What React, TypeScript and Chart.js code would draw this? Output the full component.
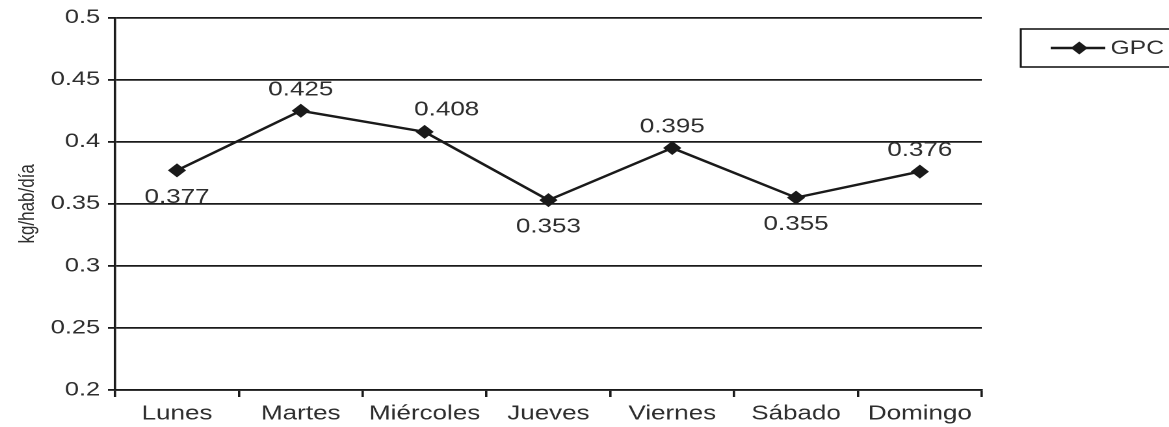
import React, { useEffect, useRef } from "react";
import { Chart, registerables } from "chart.js";

Chart.register(...registerables);

const categories = ["Lunes", "Martes", "Miércoles", "Jueves", "Viernes", "Sábado", "Domingo"];
const gpcValues = [0.377, 0.425, 0.408, 0.353, 0.395, 0.355, 0.376];
const seriesName = "GPC";
const yAxisTitle = "kg/hab/día";
const yMin = 0.2;
const yMax = 0.5;
const yStep = 0.05;
const labelPlacement = ["below", "above", "aboveRight", "below", "above", "below", "above"];

// The reference image is horizontally stretched; draw narrower and stretch with CSS.
const STRETCH = 1.3;
const OUT_W = 1169;
const OUT_H = 427;
const IN_W = Math.round(OUT_W / STRETCH);

const FONT = "'Liberation Sans', Arial, Helvetica, sans-serif";
const TEXT_COLOR = "#2e2e2e";
const LINE_COLOR = "#1a1a1a";

const placementOffsets: Record<string, [number, number]> = {
  below: [0, 27],
  above: [0, -21],
  aboveRight: [17, -22],
};

const dataLabelPlugin = {
  id: "dataLabels",
  afterDatasetsDraw(chart: any) {
    const ctx = chart.ctx;
    const meta = chart.getDatasetMeta(0);
    const values = chart.data.datasets[0].data as number[];
    ctx.save();
    ctx.font = `20px ${FONT}`;
    ctx.fillStyle = TEXT_COLOR;
    ctx.textAlign = "center";
    ctx.textBaseline = "middle";
    meta.data.forEach((pt: any, i: number) => {
      const off = placementOffsets[labelPlacement[i]] || [0, -20];
      ctx.fillText(values[i].toFixed(3), pt.x + off[0], pt.y + off[1]);
    });
    ctx.restore();
  },
};

const boxLegendPlugin = {
  id: "boxLegend",
  afterDraw(chart: any) {
    const ctx = chart.ctx;
    const ds = chart.data.datasets[0];
    const bx = 785;
    const by = 29;
    const bw = 125;
    const bh = 38;
    const cy = by + bh / 2;
    ctx.save();
    ctx.strokeStyle = LINE_COLOR;
    ctx.lineWidth = 1.6;
    ctx.strokeRect(bx, by, bw, bh);
    ctx.lineWidth = 2.5;
    ctx.beginPath();
    ctx.moveTo(808, cy);
    ctx.lineTo(850, cy);
    ctx.stroke();
    const r = 6.5;
    ctx.fillStyle = LINE_COLOR;
    ctx.beginPath();
    ctx.moveTo(830, cy - r);
    ctx.lineTo(830 + r, cy);
    ctx.lineTo(830, cy + r);
    ctx.lineTo(830 - r, cy);
    ctx.closePath();
    ctx.fill();
    ctx.font = `19px ${FONT}`;
    ctx.fillStyle = TEXT_COLOR;
    ctx.textAlign = "left";
    ctx.textBaseline = "middle";
    ctx.fillText(ds.label, 854, cy + 1);
    ctx.restore();
  },
};

export default function App() {
  const canvasRef = useRef<HTMLCanvasElement | null>(null);

  useEffect(() => {
    document.body.style.margin = "0";
    const canvas = canvasRef.current;
    if (!canvas) return;
    const chart = new Chart(canvas, {
      type: "line",
      data: {
        labels: categories,
        datasets: [
          {
            label: seriesName,
            data: gpcValues,
            borderColor: LINE_COLOR,
            backgroundColor: LINE_COLOR,
            borderWidth: 2.4,
            pointStyle: "rectRot",
            pointRadius: 7,
            pointBackgroundColor: LINE_COLOR,
            pointBorderColor: LINE_COLOR,
            pointBorderWidth: 0,
            tension: 0,
            fill: false,
          },
        ],
      },
      options: {
        animation: false,
        responsive: false,
        devicePixelRatio: 2,
        events: [],
        layout: { padding: { top: 17, right: IN_W - 755, bottom: 0, left: 0 } },
        plugins: {
          legend: { display: false },
          tooltip: { enabled: false },
        },
        scales: {
          x: {
            type: "category",
            offset: true,
            afterFit(scale: any) {
              scale.height = OUT_H - 390;
            },
            grid: {
              offset: true,
              drawOnChartArea: false,
              drawTicks: true,
              tickLength: 7,
              color: LINE_COLOR,
              lineWidth: 1.8,
            },
            border: { display: true, color: LINE_COLOR, width: 1.8 },
            ticks: {
              color: TEXT_COLOR,
              font: { family: FONT, size: 20 },
              padding: 5,
              maxRotation: 0,
              autoSkip: false,
            },
          },
          y: {
            min: yMin,
            max: yMax,
            afterFit(scale: any) {
              scale.width = 88.5;
            },
            grid: {
              color: LINE_COLOR,
              lineWidth: 1.8,
              drawTicks: true,
              tickLength: 5.5,
            },
            border: { display: true, color: LINE_COLOR, width: 1.8 },
            ticks: {
              stepSize: yStep,
              color: TEXT_COLOR,
              font: { family: FONT, size: 19.5 },
              padding: 6,
              callback: (v: any) => String(parseFloat(Number(v).toFixed(2))),
            },
            title: {
              display: true,
              text: yAxisTitle,
              color: TEXT_COLOR,
              font: { family: FONT, size: 17 },
              padding: { top: 11, bottom: 0 },
            },
          },
        },
      },
      plugins: [dataLabelPlugin, boxLegendPlugin],
    });
    return () => chart.destroy();
  }, []);

  return (
    <div style={{ width: OUT_W, height: OUT_H, overflow: "hidden", background: "#fff" }}>
      <canvas
        ref={canvasRef}
        width={IN_W}
        height={OUT_H}
        style={{ width: OUT_W + "px", height: OUT_H + "px", display: "block" }}
      />
    </div>
  );
}
